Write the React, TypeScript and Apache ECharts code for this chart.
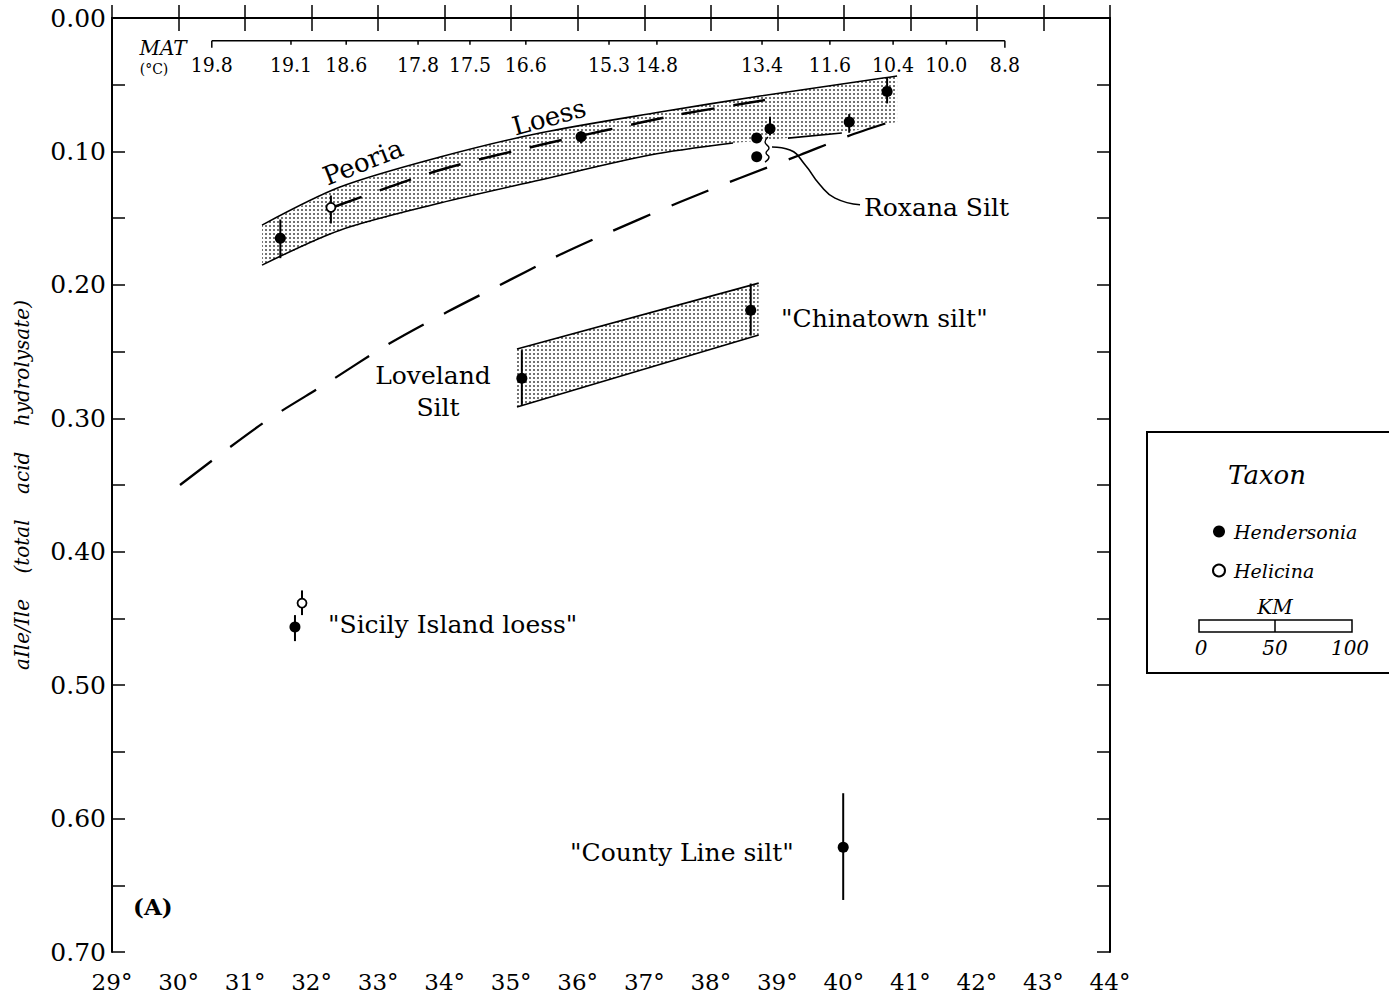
import { useEffect, useRef } from 'react';
import * as echarts from 'echarts';

const SERIF = '"DejaVu Serif", serif';
const COND = '"DejaVu Serif Condensed", "DejaVu Serif", serif';

// Axes
const xMin = 29;
const xMax = 44;
const yMin = 0;
const yMax = 0.7;

// MAT (mean annual temperature, °C) scale along the top
const matLabels = ['19.8', '19.1', '18.6', '17.8', '17.5', '16.6', '15.3', '14.8', '13.4', '11.6', '10.4', '10.0', '8.8'];
const matLat = [30.5, 31.69, 32.52, 33.6, 34.38, 35.22, 36.47, 37.19, 38.77, 39.79, 40.74, 41.54, 42.42];
const matLineY = 0.017;
const matLabelY = 0.0355;

// Hendersonia (filled) : latitude, ratio, error low, error high
const hendLat = [31.53, 36.05, 38.89, 40.08, 40.65, 38.69, 38.69, 35.16, 38.6, 31.75, 39.99];
const hendVal = [0.165, 0.089, 0.083, 0.078, 0.055, 0.09, 0.104, 0.27, 0.219, 0.4565, 0.6215];
const hendLow = [0.151, 0.085, 0.074, 0.072, 0.045, null, null, 0.249, 0.199, 0.4475, 0.581];
const hendHigh = [0.18, 0.094, 0.088, 0.086, 0.064, null, null, 0.29, 0.238, 0.467, 0.661];

// Helicina (open)
const heliLat = [32.29, 31.856];
const heliVal = [0.142, 0.4385];
const heliLow = [0.133, 0.429];
const heliHigh = [0.154, 0.4475];

// Peoria Loess band
const peoriaUpper = [[31.255, 0.1552], [32.427, 0.1267], [33.93, 0.1042], [35.433, 0.0862], [37.237, 0.0705], [38.74, 0.0585], [40.589, 0.045], [40.8, 0.0435]];
const peoriaLower = [[31.255, 0.1852], [32.427, 0.159], [33.93, 0.1387], [35.433, 0.1214], [37.087, 0.1027], [38.334, 0.0937], [39.16, 0.09], [39.97, 0.0862], [40.8, 0.078]];
const peoriaLowerEdge = [[31.255, 0.1852], [32.427, 0.159], [33.93, 0.1387], [35.433, 0.1214], [37.087, 0.1027], [38.334, 0.0937], [38.7, null], [39.16, 0.09], [39.97, 0.0862]];
const peoriaCenter = [[32.29, 0.1424], [33.93, 0.1139], [35.433, 0.0952], [36.44, 0.084], [37.49, 0.0727], [38.815, 0.0615]];

// Loveland Silt band
const lovelandUpper = [[35.087, 0.2481], [38.72, 0.1987]];
const lovelandLower = [[35.087, 0.2916], [38.72, 0.2376]];

// Long dashed trend
const trendLine = [[30.022, 0.35], [31.27, 0.3036], [32.232, 0.2736], [33.133, 0.2451], [34.035, 0.2204], [34.832, 0.2001], [35.629, 0.1799], [36.38, 0.1627], [37.537, 0.1379], [38.439, 0.1199], [39.341, 0.1027], [40.063, 0.0885], [40.739, 0.0772]];

// Roxana Silt leader and bracket
const roxanaLeader = [[38.92, 0.0967], [39.19, 0.099], [39.416, 0.11], [39.64, 0.125], [39.867, 0.135], [40.243, 0.14]];
const roxanaBracket = [[38.86, 0.0892], [38.815, 0.093], [38.875, 0.0975], [38.83, 0.1012], [38.875, 0.1042], [38.815, 0.108]];

export default function App() {
  const ref = useRef<HTMLDivElement>(null);

  useEffect(() => {
    if (!ref.current) return;
    const chart = echarts.init(ref.current, undefined, { renderer: 'svg' });

    const cv = document.createElement('canvas');
    cv.width = 4;
    cv.height = 4;
    const ctx = cv.getContext('2d')!;
    ctx.fillStyle = 'rgba(0,0,0,0.55)';
    ctx.fillRect(1, 1, 2, 2);
    const pattern = { image: cv.toDataURL(), repeat: 'repeat', imageWidth: 4, imageHeight: 4 };

    const bandSeries = (name: string, upper: number[][], lower: number[][]) => ({
      type: 'custom',
      name,
      silent: true,
      z: 1,
      data: [[upper[0][0], upper[0][1]]],
      renderItem: (_p: any, api: any) => {
        const pts = upper.concat(lower.slice().reverse()).map((p) => api.coord(p));
        return { type: 'polygon', shape: { points: pts }, style: { fill: pattern, stroke: null } };
      },
    });

    const lineSeries = (name: string, pts: any[], lineStyle: any, smooth: number = 0.3) => ({
      type: 'line',
      name,
      data: pts,
      symbol: 'none',
      smooth,
      silent: true,
      connectNulls: false,
      z: 2,
      lineStyle: { color: '#000', opacity: 1, ...lineStyle },
    });

    const errData: number[][] = [];
    hendLat.forEach((x, i) => {
      if (hendLow[i] != null) errData.push([x, hendLow[i] as number, hendHigh[i] as number]);
    });
    heliLat.forEach((x, i) => errData.push([x, heliLow[i], heliHigh[i]]));

    const txt = (text: string, x: number, y: number, size: number, extra: any = {}) => ({
      type: 'text',
      x,
      y,
      rotation: extra.rotation || 0,
      z: 10,
      style: {
        text,
        fill: '#000',
        font: `${extra.italic ? 'italic ' : ''}${extra.bold ? 'bold ' : ''}${size}px ${extra.family || SERIF}`,
        align: extra.align || 'left',
        textAlign: extra.align || 'left',
        verticalAlign: 'middle',
        textVerticalAlign: 'middle',
      },
    });

    const axisCommon = {
      type: 'value',
      axisLine: { show: true, lineStyle: { color: '#000', width: 2 } },
      axisTick: { show: true, inside: true, length: 13, lineStyle: { color: '#000', width: 1.5 } },
      splitLine: { show: false },
    };

    chart.setOption({
      animation: false,
      backgroundColor: '#fff',
      grid: { left: 112, top: 18, width: 998, height: 934 },
      xAxis: [
        {
          ...axisCommon,
          position: 'bottom',
          min: xMin,
          max: xMax,
          interval: 1,
          axisLabel: { margin: 18, color: '#000', fontFamily: SERIF, fontSize: 23, formatter: (v: number) => `${v}°` },
        },
        {
          ...axisCommon,
          position: 'top',
          min: xMin,
          max: xMax,
          interval: 1,
          axisLabel: { show: false },
        },
      ],
      yAxis: [
        {
          ...axisCommon,
          position: 'left',
          inverse: true,
          min: yMin,
          max: yMax,
          interval: 0.05,
          name: 'aIle/Ile    (total    acid    hydrolysate)',
          nameLocation: 'middle',
          nameGap: 80,
          nameTextStyle: { fontFamily: SERIF, fontStyle: 'italic', fontSize: 20, color: '#000' },
          axisLabel: {
            margin: 6,
            color: '#000',
            fontFamily: SERIF,
            fontSize: 25,
            formatter: (v: number) => {
              const k = Math.round(v * 100);
              return k % 10 === 0 ? (k / 100).toFixed(2) : '';
            },
          },
        },
        {
          ...axisCommon,
          position: 'right',
          inverse: true,
          min: yMin,
          max: yMax,
          interval: 0.05,
          axisLabel: { show: false },
        },
      ],
      legend: {
        data: [
          { name: 'Hendersonia', itemStyle: { color: '#000', opacity: 1 } },
          { name: 'Helicina', itemStyle: { color: '#fff', borderColor: '#000', borderWidth: 2, opacity: 1 } },
        ],
        orient: 'vertical',
        left: 1207,
        top: 517,
        itemWidth: 20,
        itemHeight: 12,
        itemGap: 20,
        icon: 'circle',
        selectedMode: false,
        textStyle: { fontFamily: SERIF, fontStyle: 'italic', fontSize: 19, color: '#000' },
      },
      series: [
        bandSeries('Peoria band', peoriaUpper, peoriaLower),
        bandSeries('Loveland band', lovelandUpper, lovelandLower),
        lineSeries('Peoria upper', peoriaUpper, { width: 1.6 }),
        lineSeries('Peoria lower', peoriaLowerEdge, { width: 1.6 }),
        lineSeries('Loveland upper', lovelandUpper, { width: 1.6 }, 0),
        lineSeries('Loveland lower', lovelandLower, { width: 1.6 }, 0),
        lineSeries('Peoria trend', peoriaCenter, { width: 2.5, type: [33, 19] }),
        lineSeries('Trend', trendLine, { width: 2.3, type: [40, 23] }),
        lineSeries('Roxana leader', roxanaLeader, { width: 1.6 }, 0.5),
        lineSeries('Roxana bracket', roxanaBracket, { width: 1.4 }, 0.5),
        {
          type: 'line',
          name: 'MAT line',
          data: [[matLat[0], matLineY], [matLat[matLat.length - 1], matLineY]],
          symbol: 'none',
          silent: true,
          lineStyle: { color: '#000', width: 1.6 },
        },
        {
          type: 'custom',
          name: 'MAT',
          silent: true,
          data: matLat.map((lat) => [lat, matLineY]),
          renderItem: (params: any, api: any) => {
            const i = params.dataIndex;
            const p = api.coord([api.value(0), matLineY]);
            const q = api.coord([api.value(0), matLabelY]);
            const len = i === 0 || i === matLat.length - 1 ? 7 : 4;
            return {
              type: 'group',
              children: [
                { type: 'line', shape: { x1: p[0], y1: p[1], x2: p[0], y2: p[1] + len }, style: { stroke: '#000', lineWidth: 1.5 } },
                {
                  type: 'text',
                  x: q[0],
                  y: q[1],
                  style: { text: matLabels[i], fill: '#000', font: `21px ${COND}`, align: 'center', verticalAlign: 'middle' },
                },
              ],
            };
          },
        },
        {
          type: 'custom',
          name: 'Error bars',
          silent: true,
          z: 4,
          data: errData,
          renderItem: (_p: any, api: any) => {
            const a = api.coord([api.value(0), api.value(1)]);
            const b = api.coord([api.value(0), api.value(2)]);
            return { type: 'line', shape: { x1: a[0], y1: a[1], x2: b[0], y2: b[1] }, style: { stroke: '#000', lineWidth: 2 } };
          },
        },
        {
          type: 'scatter',
          name: 'Hendersonia',
          data: hendLat.map((x, i) => [x, hendVal[i]]),
          symbol: 'circle',
          symbolSize: 11,
          z: 5,
          itemStyle: { color: '#000', opacity: 1 },
        },
        {
          type: 'scatter',
          name: 'Helicina',
          data: heliLat.map((x, i) => [x, heliVal[i]]),
          symbol: 'circle',
          symbolSize: 9,
          z: 5,
          itemStyle: { color: '#fff', borderColor: '#000', borderWidth: 1.8, opacity: 1 },
        },
      ],
      graphic: [
        txt('Peoria', 363, 162, 26, { align: 'center', rotation: 0.377 }),
        txt('Loess', 549, 117, 26, { align: 'center', rotation: 0.27 }),
        txt('Roxana Silt', 864, 207, 25),
        txt('"Chinatown silt"', 781, 318, 25),
        txt('Loveland', 433, 375, 25, { align: 'center' }),
        txt('Silt', 438, 407, 25, { align: 'center' }),
        txt('"Sicily Island loess"', 328, 624, 25),
        txt('"County Line silt"', 570, 852, 25),
        txt('(A)', 133, 906, 23, { bold: true }),
        txt('MAT', 163, 48, 20, { italic: true, align: 'center' }),
        txt('(°C)', 154, 69, 14, { align: 'center' }),
        {
          type: 'rect',
          z: 0,
          shape: { x: 1147, y: 432, width: 260, height: 241 },
          style: { fill: '#fff', stroke: '#000', lineWidth: 2 },
        },
        txt('Taxon', 1267, 475, 26, { italic: true, align: 'center' }),
        txt('KM', 1275, 607, 20, { italic: true, align: 'center' }),
        {
          type: 'rect',
          z: 10,
          shape: { x: 1199, y: 620, width: 153, height: 12 },
          style: { fill: '#fff', stroke: '#000', lineWidth: 1.5 },
        },
        {
          type: 'line',
          z: 10,
          shape: { x1: 1275, y1: 620, x2: 1275, y2: 632 },
          style: { stroke: '#000', lineWidth: 1.5 },
        },
        txt('0', 1201, 648, 20, { italic: true, align: 'center' }),
        txt('50', 1275, 648, 20, { italic: true, align: 'center' }),
        txt('100', 1350, 648, 20, { italic: true, align: 'center' }),
      ],
    });

    return () => chart.dispose();
  }, []);

  return <div ref={ref} style={{ position: 'absolute', left: 0, top: 0, width: 1389, height: 996 }} />;
}
